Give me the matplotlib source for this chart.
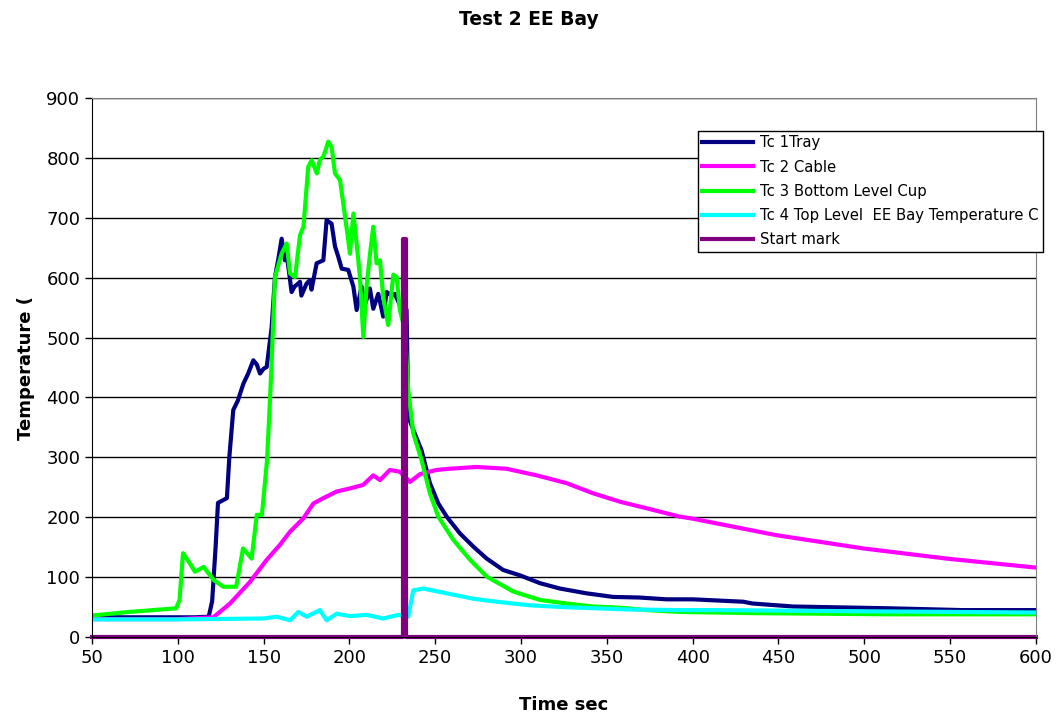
from matplotlib import pyplot as plt

# Tc 1 Tray
t_tc1 = [50, 80, 110, 118, 120, 122, 123.4, 126, 128.6, 130, 132.3, 135, 138.2, 141, 144, 146, 147.9, 150, 151.8,
         154.7, 156.6, 158.5, 160.5, 162.4, 163.4, 166.3, 168, 171.2, 172, 175, 177, 177.9, 180.9, 184.8, 186.7,
         189.6, 191.6, 193.5, 195.5, 199.3, 202.3, 204.2, 207.1, 209, 211.9, 213.9, 216.8, 219.7, 221.7, 224.6,
         226.5, 229.4, 231.4, 233.3, 234.3, 237.2, 242, 246.9, 251.8, 256.7, 264.4, 272.2, 280, 289.6, 299.4,
         311, 322.7, 338.2, 353.7, 369, 384.8, 400, 429.5, 435, 458.6, 514.9, 557.6, 600]
tc1 = [33, 33, 33, 34, 60, 150, 224, 228, 232, 300, 379, 395, 423, 440, 462, 455, 440, 448, 451,
       518, 601, 630, 665, 629, 640, 576, 585, 593, 570, 590, 596, 580, 624, 629, 696,
       690, 652, 635, 615, 613, 585, 546, 585, 554, 582, 548, 573, 535, 576, 570,
       573, 554, 560, 546, 368, 346, 312, 257, 223, 201, 173, 151, 131, 112, 103,
       90, 81, 73, 67, 66, 63, 63, 59, 56, 51, 48, 45, 45]

# Tc 2 Cable
t_tc2 = [50, 100, 120.7, 130.4, 142, 151.8, 159.5, 165.4, 173.1, 179, 184.8, 192.6, 200.2, 208, 213.9, 217.8,
         223.6, 229.4, 235.3, 241.1, 250.8, 258.5, 274.1, 291.5, 309.1, 326.5, 342, 357.6, 373.2, 392.6,
         399.4, 449, 499.4, 548, 600]
tc2 = [30, 30, 33, 56, 92, 129, 154, 176, 198, 223, 232, 243, 248, 254, 270, 262,
       279, 276, 259, 272, 279, 281, 284, 281, 270, 257, 240, 226, 215, 201,
       198, 170, 148, 131, 116]

# Tc 3 Bottom Level Cup
t_tc3 = [50, 72, 99, 101, 103, 107, 110, 115, 121, 126.5, 134, 138, 143, 146, 149, 152, 153.7, 154.7, 156.6,
         160.5, 163.4, 165.4, 168.3, 171.2, 173.2, 176, 178, 181, 182.8, 184.8, 187.7, 189.6, 191.6, 194.5,
         196.4, 199.3, 200.3, 202.3, 204.2, 206.1, 208.1, 210, 212, 213.9, 215.8, 217.8, 219.7, 222.6, 225.6,
         227.5, 229.4, 232.3, 234.3, 237.2, 242, 246.9, 251.8, 260.6, 270.3, 280, 295.5, 311, 326.6, 342,
         357.7, 373.2, 392.6, 435, 515, 600]
tc3 = [36, 42, 48, 62, 140, 123, 109, 117, 95, 84, 84, 148, 131, 204, 204, 296, 396, 462, 601,
       640, 657, 607, 601, 671, 685, 785, 796, 774, 797, 802, 827, 818, 774, 763,
       724, 663, 640, 707, 657, 602, 501, 585, 640, 685, 624, 629, 568, 521, 605,
       601, 546, 513, 412, 340, 296, 240, 201, 162, 129, 101, 76, 62, 56, 51,
       49, 45, 42, 40, 38, 38]

# Tc 4 Top Level EE Bay
t_tc4 = [50, 100, 149.8, 157.6, 165.4, 170.2, 175.1, 182.8, 186.7, 192.6, 200.3, 210, 219.7, 228.4, 234.3,
         237.2, 243, 256.7, 272.2, 285.8, 305.2, 324.6, 344, 363.4, 392.6, 415, 500, 600]
tc4 = [29.5, 29.5, 31, 34, 28, 42, 34, 45, 28, 39, 35, 37, 31, 37, 34,
       78, 81, 73, 64, 59, 53, 50, 48, 46, 45, 45, 43, 41]

# Start mark
t_mark = [50, 231, 231, 233, 233, 600]
mark = [0, 0, 665, 665, 0, 0]

fig = plt.figure(figsize=(10.58, 7.15), dpi=100)
ax = plt.axes([0.087, 0.109, 0.892, 0.754])
plt.plot(t_tc1, tc1, color='#000080', lw=3, label='Tc 1Tray')
plt.plot(t_tc2, tc2, color='#FF00FF', lw=3, label='Tc 2 Cable')
plt.plot(t_tc3, tc3, color='#00FF00', lw=3, label='Tc 3 Bottom Level Cup')
plt.plot(t_tc4, tc4, color='#00FFFF', lw=3, label='Tc 4 Top Level  EE Bay Temperature C')
plt.plot(t_mark, mark, color='#800080', lw=3, label='Start mark', clip_on=False)

plt.xlim(50, 600)
plt.ylim(0, 900)
plt.xticks(range(50, 601, 50), fontsize=13)
plt.yticks(range(0, 901, 100), fontsize=13)
ax.tick_params(direction='out', length=5, width=1)
ax.yaxis.grid(True, color='black', lw=1)  # horizontal lines only
ax.set_axisbelow(True)
for s in ['top', 'right']:
    ax.spines[s].set_color('gray')

fig.text(0.5, 0.965, 'Test 2 EE Bay', fontsize=13.5, fontweight='bold', ha='center', va='baseline')
plt.xlabel('Time sec', fontsize=13, fontweight='bold', labelpad=21)
plt.ylabel('Temperature (', fontsize=13, fontweight='bold', labelpad=8)

leg = plt.legend(loc='upper left', bbox_to_anchor=(0.642, 0.939), borderaxespad=0, fontsize=10.7,
                 frameon=True, fancybox=False, handlelength=3.4, labelspacing=0.62, borderpad=0.3,
                 handletextpad=0.5)
leg.get_frame().set_edgecolor('black')
leg.get_frame().set_alpha(1)

plt.savefig('out.png')
